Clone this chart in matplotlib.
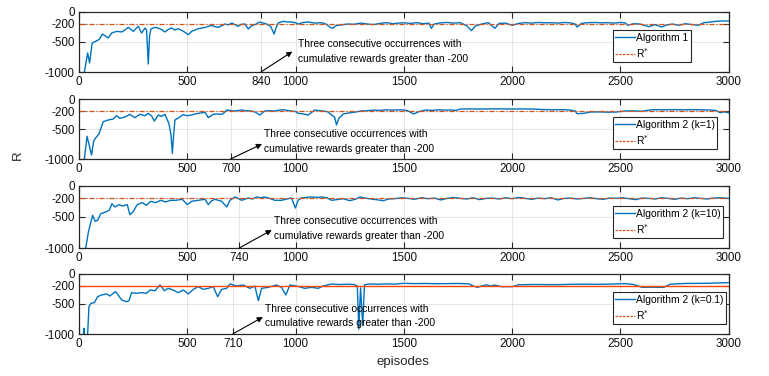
import matplotlib
matplotlib.use('Agg')
import matplotlib.pyplot as plt
from matplotlib.lines import Line2D

plt.rcParams['font.family'] = ['Liberation Sans', 'DejaVu Sans']
plt.rcParams['axes.unicode_minus'] = False

# ---- data ----
ep1 = [0, 25, 40, 49, 61, 77, 92, 108, 122, 135,
       151, 174, 197, 212, 228, 240, 251, 262, 274, 289,
       305, 312, 320, 326, 332, 351, 374, 397, 412, 428,
       443, 458, 482, 505, 520, 535, 551, 566, 582, 597,
       612, 628, 643, 659, 674, 690, 705, 720, 735, 750,
       766, 782, 797, 812, 835, 850, 866, 885, 901, 910,
       920, 943, 960, 981, 1000, 1012, 1035, 1058, 1090, 1120,
       1140, 1160, 1172, 1185, 1210, 1240, 1270, 1300, 1330, 1360,
       1390, 1420, 1450, 1475, 1500, 1530, 1560, 1590, 1615, 1627,
       1640, 1670, 1700, 1730, 1760, 1790, 1812, 1830, 1860, 1890,
       1920, 1940, 1970, 2000, 2030, 2060, 2090, 2120, 2150, 2180,
       2210, 2240, 2270, 2290, 2300, 2320, 2350, 2380, 2410, 2440,
       2470, 2500, 2520, 2535, 2560, 2590, 2630, 2660, 2690, 2710,
       2740, 2770, 2800, 2830, 2860, 2885, 2910, 2940, 2970, 3000]
r1 = [-1100, -1000, -683, -850, -517, -489, -461, -367, -400, -433,
      -350, -322, -333, -300, -256, -290, -322, -280, -239, -350,
      -267, -300, -867, -400, -283, -256, -278, -333, -290, -267,
      -300, -278, -322, -378, -322, -300, -278, -270, -256, -240,
      -222, -245, -256, -230, -200, -215, -183, -210, -239, -205,
      -200, -283, -230, -211, -167, -185, -200, -240, -367, -260,
      -183, -156, -165, -167, -180, -200, -175, -167, -185, -178,
      -200, -256, -272, -230, -215, -200, -205, -185, -200, -210,
      -190, -178, -195, -185, -180, -190, -178, -195, -185, -272,
      -200, -180, -175, -185, -178, -230, -311, -233, -200, -178,
      -272, -190, -185, -222, -190, -178, -185, -175, -180, -178,
      -185, -175, -182, -200, -250, -190, -178, -175, -180, -178,
      -185, -175, -180, -222, -195, -200, -245, -210, -250, -220,
      -200, -222, -195, -210, -222, -178, -170, -155, -150, -150]

ep2 = [0, 25, 37, 48, 58, 68, 77, 92, 112, 135,
       158, 174, 189, 212, 235, 258, 281, 305, 320, 335,
       348, 366, 380, 397, 415, 425, 431, 437, 443, 466,
       480, 497, 520, 535, 551, 566, 582, 597, 620, 640,
       659, 670, 682, 697, 712, 730, 751, 770, 797, 815,
       835, 850, 858, 880, 904, 925, 943, 960, 981, 1000,
       1012, 1030, 1058, 1075, 1089, 1110, 1127, 1150, 1166, 1180,
       1189, 1200, 1220, 1250, 1280, 1300, 1330, 1360, 1390, 1420,
       1450, 1475, 1500, 1520, 1545, 1570, 1600, 1630, 1660, 1690,
       1720, 1740, 1760, 1800, 1850, 1900, 1950, 2000, 2050, 2100,
       2140, 2170, 2200, 2240, 2270, 2290, 2300, 2330, 2360, 2400,
       2440, 2480, 2520, 2560, 2600, 2620, 2650, 2700, 2750, 2800,
       2850, 2900, 2940, 2960, 2980, 3000]
r2 = [-1100, -1000, -620, -780, -933, -700, -650, -583, -378, -350,
      -333, -278, -322, -300, -256, -311, -256, -278, -239, -280,
      -367, -267, -290, -256, -406, -600, -906, -600, -350, -300,
      -260, -278, -267, -250, -239, -230, -222, -311, -256, -250,
      -256, -230, -183, -190, -200, -195, -183, -195, -200, -220,
      -267, -220, -200, -195, -200, -185, -178, -190, -200, -210,
      -239, -245, -267, -220, -183, -195, -200, -215, -267, -300,
      -433, -320, -250, -230, -215, -200, -195, -185, -190, -180,
      -185, -180, -183, -200, -250, -210, -183, -190, -180, -185,
      -183, -190, -167, -165, -167, -165, -165, -167, -165, -168,
      -175, -178, -180, -178, -185, -200, -244, -240, -217, -215,
      -220, -217, -200, -198, -205, -190, -178, -180, -178, -180,
      -178, -182, -190, -228, -215, -230]

ep3 = [0, 31, 44, 55, 63, 75, 86, 101, 124, 140,
       152, 166, 185, 200, 223, 235, 249, 269, 292, 311,
       331, 354, 377, 400, 423, 446, 477, 500, 520, 551,
       582, 597, 612, 628, 659, 682, 697, 720, 751, 782,
       800, 820, 840, 858, 880, 904, 935, 960, 981, 999,
       1012, 1027, 1050, 1073, 1100, 1120, 1145, 1166, 1190, 1220,
       1250, 1275, 1298, 1320, 1350, 1380, 1405, 1430, 1460, 1490,
       1520, 1550, 1580, 1610, 1640, 1670, 1700, 1730, 1760, 1790,
       1820, 1850, 1880, 1910, 1940, 1970, 2000, 2030, 2060, 2090,
       2120, 2150, 2180, 2210, 2240, 2270, 2300, 2330, 2360, 2390,
       2420, 2450, 2480, 2510, 2540, 2570, 2600, 2630, 2660, 2690,
       2720, 2750, 2780, 2810, 2840, 2870, 2900, 2930, 2960, 3000]
r3 = [-1100, -1000, -731, -581, -473, -570, -554, -446, -419, -392,
      -285, -339, -301, -323, -301, -462, -419, -301, -269, -312,
      -247, -269, -231, -258, -231, -231, -215, -301, -247, -231,
      -215, -301, -240, -215, -247, -339, -231, -177, -231, -193,
      -210, -177, -190, -177, -200, -231, -231, -210, -193, -355,
      -230, -193, -185, -177, -185, -177, -190, -231, -220, -205,
      -237, -215, -177, -195, -210, -225, -237, -210, -204, -190,
      -200, -215, -190, -205, -195, -225, -200, -185, -200, -210,
      -190, -220, -200, -195, -210, -190, -205, -185, -200, -215,
      -195, -205, -190, -225, -200, -195, -210, -200, -190, -205,
      -215, -195, -200, -190, -205, -220, -195, -200, -210, -190,
      -200, -215, -195, -205, -190, -200, -210, -195, -190, -200]

ep4 = [0, 20, 23, 26, 35, 40, 46, 55, 71, 86,
       104, 128, 143, 158, 169, 181, 197, 220, 231, 243,
       266, 289, 312, 328, 351, 374, 394, 412, 435, 458,
       482, 505, 528, 551, 574, 597, 620, 640, 659, 682,
       697, 728, 758, 789, 812, 828, 843, 874, 912, 935,
       955, 974, 1004, 1043, 1073, 1104, 1127, 1166, 1200, 1240,
       1270, 1285, 1292, 1300, 1310, 1318, 1340, 1380, 1420, 1460,
       1500, 1550, 1600, 1650, 1700, 1750, 1800, 1820, 1840, 1860,
       1880, 1900, 1920, 1950, 1980, 2000, 2030, 2100, 2200, 2300,
       2400, 2470, 2520, 2560, 2600, 2650, 2700, 2730, 2800, 2900,
       3000]
r4 = [-1100, -1100, -905, -1100, -1100, -1000, -544, -489, -478, -378,
      -350, -333, -367, -322, -294, -350, -433, -461, -444, -311,
      -322, -311, -322, -267, -278, -183, -278, -239, -267, -311,
      -267, -333, -256, -211, -256, -239, -211, -378, -256, -239,
      -167, -200, -183, -239, -200, -444, -239, -222, -183, -222,
      -350, -183, -200, -239, -222, -239, -200, -167, -175, -170,
      -175, -200, -920, -230, -850, -180, -167, -170, -165, -168,
      -156, -160, -158, -162, -160, -158, -165, -200, -222, -200,
      -180, -200, -185, -211, -211, -211, -180, -175, -178, -170,
      -172, -167, -160, -175, -222, -220, -222, -170, -158, -155,
      -144]

r_star = -200
labels = ['Algorithm 1', 'Algorithm 2 (k=1)', 'Algorithm 2 (k=10)', 'Algorithm 2 (k=0.1)']
first_ep = [840, 700, 740, 710]          # first of the three consecutive > -200
arrow_tip = [(985, -660), (845, -750), (890, -710), (849, -717)]
text_pos = [(1010, -533, -783), (854, -583, -833), (900, -565, -806), (858, -583, -817)]
xticks_base = [0, 500, 1000, 1500, 2000, 2500, 3000]
yticks = [-1000, -500, -200, 0]

series = [(ep1, r1), (ep2, r2), (ep3, r3), (ep4, r4)]

blue = '#0072BD'
red = '#D95319'

fig = plt.figure(figsize=(7.69, 3.76), dpi=100)
# axes boxes in figure fraction (left, bottom, width, height)
boxes = [(0.1027, 0.8085, 0.845, 0.1596),
         (0.1027, 0.5771, 0.845, 0.1596),
         (0.1027, 0.3404, 0.845, 0.1650),
         (0.1027, 0.1117, 0.845, 0.1596)]

for i, (ep, r) in enumerate(series):
    ax = fig.add_axes(boxes[i])
    ax.plot(ep, r, color=blue, lw=1.0)
    if i == 3:
        ax.axhline(r_star, color='#FF4500', lw=1.0, ls='-')
    else:
        ax.axhline(r_star, color=red, lw=0.9, ls=(0, (4, 1.5, 1, 1.5)))
    ax.set_xlim(0, 3000)
    ax.set_ylim(-1000, 0)
    xt = sorted(xticks_base + [first_ep[i]])
    ax.set_xticks(xt)
    ax.set_xticklabels([str(v) for v in xt])
    ax.set_yticks(yticks)
    ax.set_yticklabels([str(v) for v in yticks])
    ax.grid(True, color='#e0e0e0', lw=0.6)
    ax.set_axisbelow(True)
    ax.tick_params(direction='in', length=4, width=0.8, top=True, right=True,
                   labelsize=8.4, colors='#262626', labelcolor='#111111', pad=3)
    for s in ax.spines.values():
        s.set_color('#262626')
        s.set_linewidth(0.9)

    # annotation
    ax.annotate('', xy=arrow_tip[i], xytext=(first_ep[i], -1000),
                arrowprops=dict(arrowstyle='-|>', color='k', lw=0.8,
                                mutation_scale=8, shrinkA=0, shrinkB=0),
                annotation_clip=False)
    tx, ty1, ty2 = text_pos[i]
    ax.text(tx, ty1, 'Three consecutive occurrences with', fontsize=7.4, va='center')
    ax.text(tx, ty2, 'cumulative rewards greater than -200', fontsize=7.4, va='center')

    handles = [Line2D([], [], color=blue, lw=1.0),
               Line2D([], [], color=red, lw=0.9, ls=(0, (2, 1)))]
    leg = ax.legend(handles, [labels[i], r'R$^{*}$'], loc='lower left',
                    bbox_to_anchor=(0.8215, 0.16), fontsize=7.4, frameon=True,
                    fancybox=False, edgecolor='#262626', framealpha=1,
                    handlelength=1.9, handletextpad=0.1, borderpad=0.25,
                    labelspacing=0.3, borderaxespad=0)
    leg.get_frame().set_linewidth(0.8)

fig.text(0.023, 0.588, 'R', rotation=90, fontsize=9.5, va='center', ha='center', color='#262626')
fig.text(0.524, 0.037, 'episodes', fontsize=9.5, va='center', ha='center', color='#262626')

fig.savefig('out.png', dpi=100)
